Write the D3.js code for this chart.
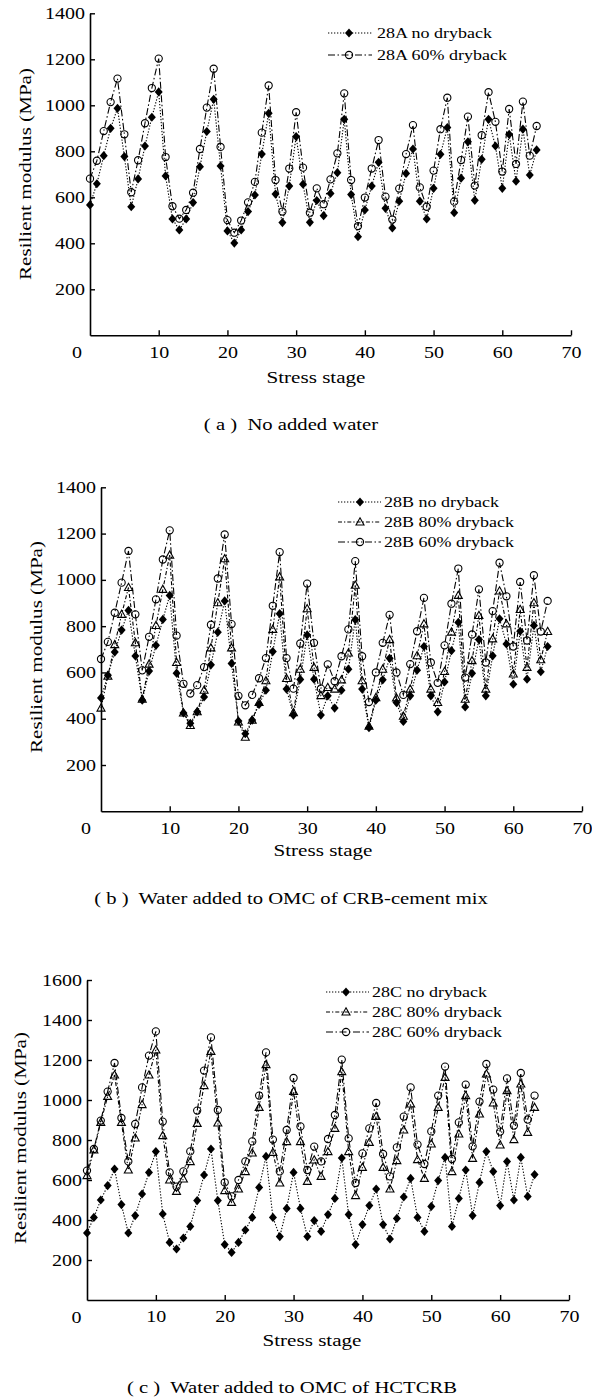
<!DOCTYPE html>
<html><head><meta charset="utf-8">
<script src="https://cdn.jsdelivr.net/npm/d3@7"></script>
<style>
body{margin:0;background:#fff}
svg{display:block}
text{font-family:"Liberation Serif","Times New Roman",serif;fill:#000}
</style>
</head><body><svg id="chart" width="592" height="1399"></svg>
<script>
// ---------- data ----------
const stages=[0,1,2,3,4,5,6,7,8,9,10,11,12,13,14,15,16,17,18,19,20,21,22,23,24,25,26,27,28,29,30,31,32,33,34,35,36,37,38,39,40,41,42,43,44,45,46,47,48,49,50,51,52,53,54,55,56,57,58,59,60,61,62,63,64,65];

const a_noDryback=[567,659,781,900,987,777,559,680,823,948,1058,693,506,458,506,577,733,886,1026,736,454,401,458,538,610,788,965,614,490,649,864,657,491,586,520,617,707,939,612,429,545,649,752,552,467,583,704,810,583,506,639,787,903,533,683,841,587,765,939,823,639,874,670,896,697,806];
const a_dry60=[681,759,888,1014,1116,874,622,761,922,1075,1203,775,561,507,545,620,810,990,1159,819,501,446,499,578,667,881,1086,675,538,725,970,729,533,639,570,678,791,1052,675,475,599,725,849,603,503,638,788,914,643,559,716,896,1033,581,762,951,651,870,1057,928,712,984,745,1016,781,910];

const b_noDryback=[490,588,688,783,868,671,480,606,717,829,933,597,425,380,430,494,633,774,909,639,390,335,394,462,523,690,854,528,416,570,762,571,416,499,446,523,614,828,528,361,480,568,661,470,388,499,610,712,499,430,559,694,816,451,596,742,499,672,832,723,549,778,571,803,603,712];
const b_dry80=[446,584,720,851,967,728,484,636,803,959,1107,643,425,371,430,523,706,901,1091,706,386,320,394,470,564,786,1013,574,426,614,875,622,500,535,528,568,684,977,564,368,491,614,742,490,411,528,672,810,528,470,604,774,933,484,651,846,528,745,952,810,593,872,622,901,655,777];
const b_dry60=[658,732,858,988,1125,851,609,754,916,1088,1214,759,551,509,545,623,806,1006,1196,809,499,458,503,575,662,888,1120,662,530,725,984,728,530,635,562,670,786,1081,670,472,600,728,849,600,503,636,778,922,643,555,717,897,1049,578,764,959,643,865,1074,929,712,991,738,1020,777,909];

const c_noDryback=[335,413,500,572,655,477,335,422,530,638,742,430,288,255,310,368,497,625,755,497,277,238,288,350,413,563,718,413,317,458,638,458,317,397,343,427,508,710,427,277,377,472,555,377,305,408,515,608,413,343,468,597,713,368,508,650,422,588,742,642,472,692,500,713,518,627];
const c_dry80=[622,750,888,1018,1125,888,650,810,977,1125,1250,822,600,543,605,692,883,1072,1243,885,547,488,555,642,735,963,1177,738,585,792,1043,792,593,700,618,742,858,1142,742,522,663,788,918,663,555,697,850,980,702,608,780,963,1113,642,830,1022,708,930,1130,985,775,1047,802,1080,838,963];
const c_dry60=[647,755,897,1042,1185,910,693,880,1063,1222,1343,892,638,567,643,743,947,1147,1313,950,588,518,600,693,793,1022,1238,802,643,850,1110,868,650,767,693,805,925,1202,808,585,733,858,985,730,618,763,917,1063,777,680,843,1022,1167,705,888,1077,768,992,1180,1052,842,1108,872,1135,902,1022];

const xTickValues=[10,20,30,40,50,60,70];
const yTicksAB=[200,400,600,800,1000,1200,1400];
const yTicksC=[200,400,600,800,1000,1200,1400,1600];
const legendA=["28A no dryback","28A 60% dryback"];
const legendB=["28B no dryback","28B 80% dryback","28B 60% dryback"];
const legendC=["28C no dryback","28C 80% dryback","28C 60% dryback"];
const captions=["( a )  No added water","( b )  Water added to OMC of CRB-cement mix","( c )  Water added to OMC of HCTCRB"];
const xTitle="Stress stage";
const yTitle="Resilient modulus (MPa)";

// ---------- styles ----------
const STYLE={
  no:{dash:"1.3,1.7",marker:"diamond"},
  d80:{dash:"4,2,1.3,2",marker:"triangle"},
  d60:{dash:"7,2.5,1.5,2.5",marker:"circle"}
};
const STRETCH=1.25;
const svg=d3.select("#chart");

function stretch(sel,k){
  sel.each(function(){
    const L=this.getComputedTextLength();
    this.setAttribute("textLength",L*k);
    this.setAttribute("lengthAdjust","spacingAndGlyphs");
  });
}

function marker(g,type,x,y){
  if(type==="circle"){
    g.append("circle").attr("cx",x).attr("cy",y).attr("r",3.6)
      .attr("fill","none").attr("stroke","#000").attr("stroke-width",1.1);
  }else if(type==="diamond"){
    g.append("path").attr("transform",`translate(${x},${y})`)
      .attr("d","M0,-4.6L4,0L0,4.6L-4,0Z").attr("fill","#000");
  }else{
    g.append("path").attr("transform",`translate(${x},${y})`)
      .attr("d","M0,-4.2L4,3L-4,3Z").attr("fill","none").attr("stroke","#000").attr("stroke-width",1.1);
  }
}

function panel(cfg){
  const g=svg.append("g");
  const x=d3.scaleLinear().domain([0,70]).range([cfg.x0,cfg.x1]);
  const y=d3.scaleLinear().domain([0,cfg.yMax]).range([cfg.yBot,cfg.yTop]);

  cfg.series.forEach(s=>{
    const st=STYLE[s.style];
    const pts=stages.map((st_,i)=>[st_,s.values[i]]);
    g.append("path").datum(pts)
      .attr("d",d3.line().x(d=>x(d[0])).y(d=>y(d[1])))
      .attr("fill","none").attr("stroke","#000").attr("stroke-width",1.1)
      .attr("stroke-dasharray",st.dash);
    const mg=g.append("g");
    pts.forEach(d=>marker(mg,st.marker,x(d[0]),y(d[1])));
  });

  const ya=g.append("g").attr("transform",`translate(${cfg.x0},0)`)
    .call(d3.axisLeft(y).tickValues(cfg.yTicks).tickSize(-5).tickSizeOuter(0).tickPadding(5).tickFormat(d3.format("d")));
  const xa=g.append("g").attr("transform",`translate(0,${cfg.yBot})`)
    .call(d3.axisBottom(x).tickValues(xTickValues).tickSize(-5).tickSizeOuter(0).tickPadding(11).tickFormat(d3.format("d")));
  [ya,xa].forEach(a=>{
    a.select(".domain").attr("stroke-width",1.6);
    a.selectAll(".tick line").attr("stroke-width",1.4);
    a.selectAll("text").attr("font-size",16).attr("font-family",'"Liberation Serif","Times New Roman",serif');
    stretch(a.selectAll("text"),STRETCH);
  });
  const zero=g.append("text").attr("x",cfg.x0-cfg.zeroOff).attr("y",cfg.yBot+22.5)
    .attr("text-anchor","middle").attr("font-size",16).text("0");
  stretch(zero,STRETCH);

  const xt=g.append("text").attr("x",cfg.xTitle[0]).attr("y",cfg.xTitle[1])
    .attr("text-anchor","middle").attr("font-size",17).text(xTitle);
  stretch(xt,1.24);
  const yt=g.append("text").attr("transform",`translate(${cfg.yTitle[0]},${cfg.yTitle[1]}) rotate(-90)`)
    .attr("text-anchor","middle").attr("dy","0.35em").attr("font-size",17).text(yTitle);
  stretch(yt,1.24);
  const cap=g.append("text").attr("x",cfg.caption[0]).attr("y",cfg.caption[1])
    .attr("text-anchor","middle").attr("font-size",17.5).style("white-space","pre").text(cfg.captionText);
  stretch(cap,1.18);

  const L=cfg.legend;
  cfg.series.slice().sort((a,b)=>a.order-b.order).forEach((s,i)=>{
    const st=STYLE[s.style];
    const yy=L.rows[i];
    g.append("line").attr("x1",L.l1).attr("x2",L.l2).attr("y1",yy).attr("y2",yy)
      .attr("stroke","#000").attr("stroke-width",1.1).attr("stroke-dasharray",st.dash);
    marker(g,st.marker,L.m,yy);
    const t=g.append("text").attr("x",L.t).attr("y",yy).attr("dy","0.35em")
      .attr("font-size",15).text(s.label);
    stretch(t,1.2);
  });
}

panel({x0:90,x1:571,yTop:13.3,yBot:335.3,yMax:1400,yTicks:yTicksAB,zeroOff:13,
  series:[
    {values:a_noDryback,style:"no",label:legendA[0],order:0},
    {values:a_dry60,style:"d60",label:legendA[1],order:1}],
  legend:{l1:328,l2:372,m:349,t:377,rows:[33,55]},
  xTitle:[316,383],yTitle:[25,174],caption:[291,430],captionText:captions[0]});

panel({x0:101,x1:582,yTop:487.3,yBot:811.3,yMax:1400,yTicks:yTicksAB,zeroOff:15,
  series:[
    {values:b_noDryback,style:"no",label:legendB[0],order:0},
    {values:b_dry80,style:"d80",label:legendB[1],order:1},
    {values:b_dry60,style:"d60",label:legendB[2],order:2}],
  legend:{l1:338,l2:381,m:360,t:384,rows:[502,522,542]},
  xTitle:[323,856],yTitle:[36,647],caption:[291,904],captionText:captions[1]});

panel({x0:87,x1:569,yTop:980,yBot:1300,yMax:1600,yTicks:yTicksC,zeroOff:10.5,
  series:[
    {values:c_noDryback,style:"no",label:legendC[0],order:0},
    {values:c_dry80,style:"d80",label:legendC[1],order:1},
    {values:c_dry60,style:"d60",label:legendC[2],order:2}],
  legend:{l1:326,l2:369,m:346,t:372,rows:[992,1012,1032]},
  xTitle:[312,1346],yTitle:[20,1138],caption:[292,1393],captionText:captions[2]});
</script>
</body></html>
